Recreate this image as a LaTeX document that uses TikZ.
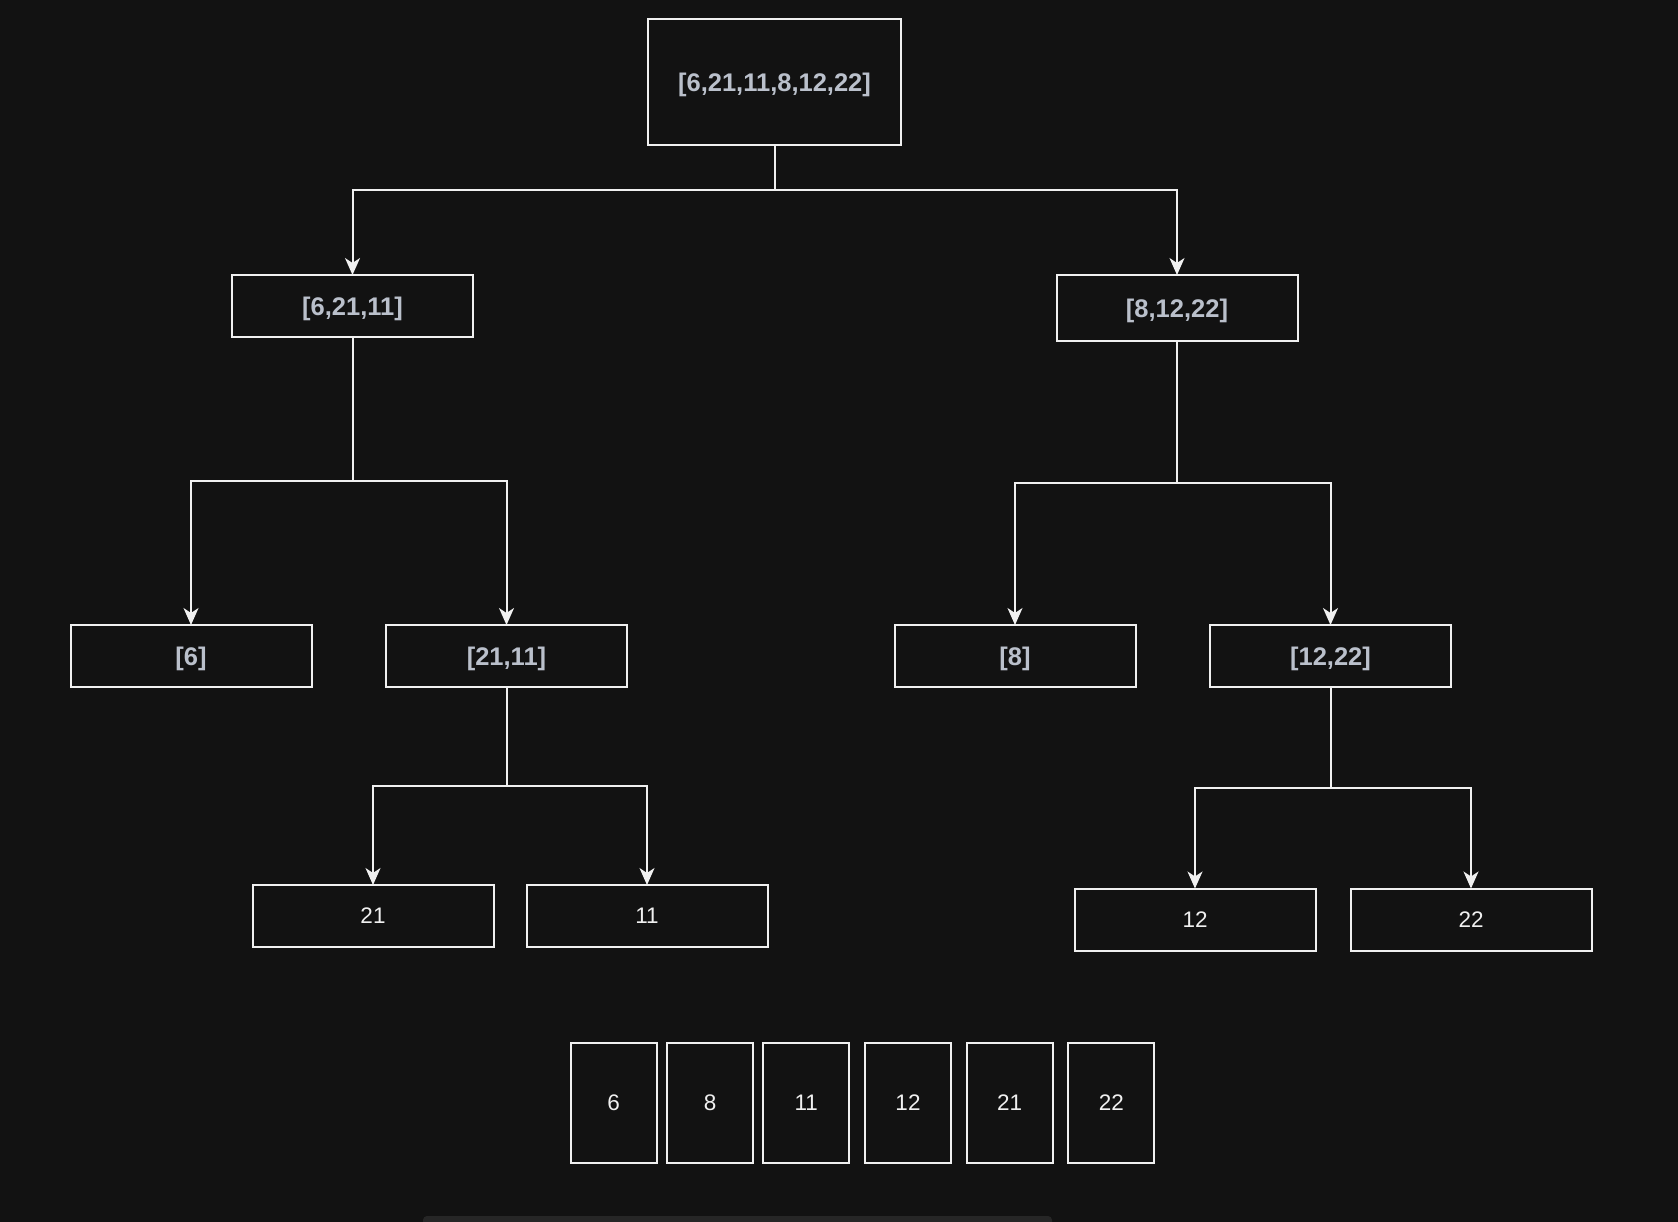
\documentclass[tikz,border=0pt]{standalone}
\usepackage{fontspec}
\setmainfont{Liberation Sans}
\usetikzlibrary{positioning, arrows.meta}

\definecolor{canvas}{HTML}{121212}
\definecolor{wire}{HTML}{F0F0F0}
\definecolor{listtext}{HTML}{BAC0CB}
\definecolor{scrollbar}{HTML}{262626}

\begin{document}
\begin{tikzpicture}[
    x=1pt, y=-1pt,
    every node/.style={inner sep=0pt, outer sep=0pt},
    listbox/.style={
        draw=wire,
        fill=canvas,
        line width=2pt,
        minimum width=241pt,
        minimum height=62pt,
        text depth=0pt,
        text=listtext,
        font=\fontsize{25.5}{30}\selectfont\bfseries
    },
    leafbox/.style={
        listbox,
        text=wire,
        font=\fontsize{22.5}{26}\selectfont
    },
    cellbox/.style={
        leafbox,
        minimum width=86pt,
        minimum height=120pt
    },
    link/.style={draw=wire, line width=2pt,
        -{Stealth[length=17pt, width=15pt, inset=5pt]}}
]

%% ── Canvas ───────────────────────────────────────────────────────────────────
\useasboundingbox[fill=canvas] (0,0) rectangle (1678,1222);
\fill[scrollbar, rounded corners=4pt] (423,1216) rectangle (1052,1230);

%% ── Root ─────────────────────────────────────────────────────────────────────
\node[listbox, minimum width=253pt, minimum height=126pt] (root)
    at (774.5,82) {[6,21,11,8,12,22]};

%% ── First split ──────────────────────────────────────────────────────────────
\node[listbox] (left)  at (352.5,306) {[6,21,11]};
\node[listbox, minimum height=66pt] (right) at (1177,308) {[8,12,22]};

%% ── Second split ─────────────────────────────────────────────────────────────
\node[listbox] (six)      at (191,656)    {[6]};
\node[listbox] (leftpair) at (506.5,656)  {[21,11]};
\node[listbox] (eight)    at (1015,656)   {[8]};
\node[listbox] (rightpair) at (1330.5,656) {[12,22]};

%% ── Third split ──────────────────────────────────────────────────────────────
\node[leafbox] (tw1) at (373,916)    {21};
\node[leafbox] (el)  at (647,916)    {11};
\node[leafbox] (tw)  at (1195,919.5) {12};
\node[leafbox] (tt)  at (1471,919.5) {22};

%% ── Merged result ────────────────────────────────────────────────────────────
\node[cellbox] (c1) at (613.7,1102.5) {6};
\node[cellbox] (c2) at (710,1102.5)   {8};
\node[cellbox] (c3) at (806.3,1102.5) {11};
\node[cellbox] (c4) at (908,1102.5)   {12};
\node[cellbox] (c5) at (1009.7,1102.5) {21};
\node[cellbox] (c6) at (1111.3,1102.5) {22};

%% ── Forks ────────────────────────────────────────────────────────────────────
\coordinate (fork0) at (774.5,190.5);
\coordinate (fork1) at (352.5,480.5);
\coordinate (fork2) at (1177,482.7);
\coordinate (fork3) at (506.5,785.5);
\coordinate (fork4) at (1330.5,787.7);

\draw[link] (root.south) -- (fork0) -| (left.north);
\draw[link] (root.south) -- (fork0) -| (right.north);

\draw[link] (left.south) -- (fork1) -| (six.north);
\draw[link] (left.south) -- (fork1) -| (leftpair.north);

\draw[link] (right.south) -- (fork2) -| (eight.north);
\draw[link] (right.south) -- (fork2) -| (rightpair.north);

\draw[link] (leftpair.south) -- (fork3) -| (tw1.north);
\draw[link] (leftpair.south) -- (fork3) -| (el.north);

\draw[link] (rightpair.south) -- (fork4) -| (tw.north);
\draw[link] (rightpair.south) -- (fork4) -| (tt.north);

\end{tikzpicture}
\end{document}
